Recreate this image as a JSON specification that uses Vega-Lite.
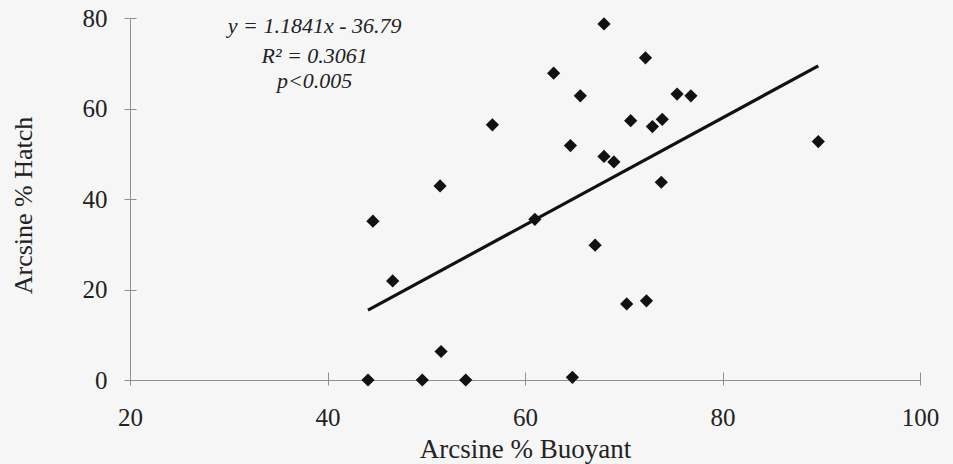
{
  "$schema": "https://vega.github.io/schema/vega-lite/v6.json",
  "width": 790,
  "height": 362,
  "autosize": "none",
  "padding": {"left": 130, "top": 18, "right": 33, "bottom": 84},
  "background": "#f6f6f6",
  "config": {
    "view": {"stroke": null},
    "font": "Liberation Serif",
    "axis": {
      "grid": false,
      "domainColor": "#8f8f8f",
      "domainWidth": 1,
      "tickColor": "#8f8f8f",
      "tickWidth": 1,
      "labelFont": "Liberation Serif",
      "labelFontSize": 25,
      "labelColor": "#222222",
      "labelFlush": false,
      "titleFont": "Liberation Serif",
      "titleFontWeight": "normal",
      "titleColor": "#222222"
    }
  },
  "datasets": {
    "eggs": [
      {"buoyant": 44.1, "hatch": 0},
      {"buoyant": 49.6, "hatch": 0},
      {"buoyant": 54.0, "hatch": 0},
      {"buoyant": 64.8, "hatch": 0.6},
      {"buoyant": 44.6, "hatch": 35.1},
      {"buoyant": 46.6, "hatch": 21.9},
      {"buoyant": 51.4, "hatch": 42.9},
      {"buoyant": 51.5, "hatch": 6.3},
      {"buoyant": 61.0, "hatch": 35.5},
      {"buoyant": 64.6, "hatch": 51.8},
      {"buoyant": 68.0, "hatch": 78.7},
      {"buoyant": 72.2, "hatch": 71.2},
      {"buoyant": 62.9, "hatch": 67.8},
      {"buoyant": 65.6, "hatch": 62.8},
      {"buoyant": 75.4, "hatch": 63.2},
      {"buoyant": 76.8, "hatch": 62.8},
      {"buoyant": 56.7, "hatch": 56.4},
      {"buoyant": 70.7, "hatch": 57.3},
      {"buoyant": 72.9, "hatch": 56.0},
      {"buoyant": 73.9, "hatch": 57.6},
      {"buoyant": 68.0, "hatch": 49.4},
      {"buoyant": 69.0, "hatch": 48.2},
      {"buoyant": 73.8, "hatch": 43.7},
      {"buoyant": 89.7, "hatch": 52.7},
      {"buoyant": 67.1, "hatch": 29.8},
      {"buoyant": 70.3, "hatch": 16.8},
      {"buoyant": 72.3, "hatch": 17.5}
    ],
    "fit": [
      {"buoyant": 44.1, "hatch": 15.43},
      {"buoyant": 89.7, "hatch": 69.42}
    ],
    "stats": [
      {"buoyant": 38.7, "hatch": 78.3, "label": "y = 1.1841x - 36.79"},
      {"buoyant": 38.7, "hatch": 71.7, "label": "R² = 0.3061"},
      {"buoyant": 38.7, "hatch": 66.0, "label": "p<0.005"}
    ]
  },
  "resolve": {"axis": {"x": "independent", "y": "independent"}},
  "layer": [
    {
      "data": {"name": "eggs"},
      "mark": {"type": "point", "shape": "diamond", "filled": true, "size": 175, "color": "#111111", "opacity": 1},
      "encoding": {
        "x": {
          "field": "buoyant", "type": "quantitative",
          "scale": {"domain": [20, 100], "nice": false, "zero": false},
          "axis": {
            "orient": "bottom", "values": [20, 40, 60, 80, 100], "tickSize": 5,
            "labelPadding": 40, "labelBaseline": "alphabetic",
            "title": "Arcsine % Buoyant", "titleFontSize": 27,
            "titleBaseline": "alphabetic", "titleY": 77
          }
        },
        "y": {
          "field": "hatch", "type": "quantitative",
          "scale": {"domain": [0, 80], "nice": false},
          "axis": {
            "orient": "left", "values": [0, 20, 40, 60, 80], "tickSize": 6,
            "labelPadding": 17,
            "title": "Arcsine % Hatch", "titleFontSize": 26,
            "titleX": -107, "titleY": 187, "titleBaseline": "middle"
          }
        }
      }
    },
    {
      "data": {"name": "fit"},
      "mark": {"type": "line", "color": "#111111", "strokeWidth": 3.2},
      "encoding": {
        "x": {
          "field": "buoyant", "type": "quantitative",
          "axis": {"orient": "bottom", "values": [20, 40, 60, 80, 100], "tickSize": -8, "labels": false, "domain": false, "title": null}
        },
        "y": {
          "field": "hatch", "type": "quantitative",
          "axis": {"orient": "left", "values": [0, 20, 40, 60, 80], "tickSize": -6, "labels": false, "domain": false, "title": null}
        }
      }
    },
    {
      "data": {"name": "stats"},
      "mark": {"type": "text", "font": "Liberation Serif", "fontStyle": "italic", "fontSize": 22, "color": "#222222", "align": "center", "baseline": "middle"},
      "encoding": {
        "x": {"field": "buoyant", "type": "quantitative", "axis": null},
        "y": {"field": "hatch", "type": "quantitative", "axis": null},
        "text": {"field": "label"}
      }
    }
  ]
}
